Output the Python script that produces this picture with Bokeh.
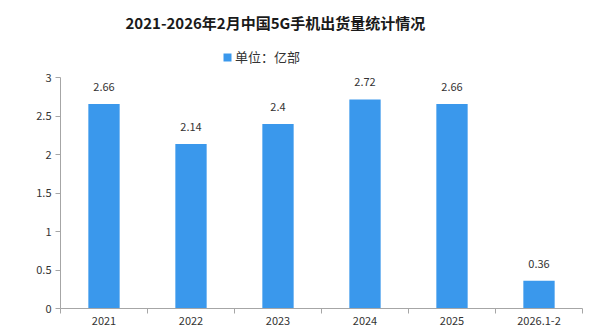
from bokeh.plotting import figure
from bokeh.models import ColumnDataSource, FixedTicker, Legend, LegendItem, Range1d
from bokeh.embed import file_html
from bokeh.resources import INLINE

categories = ["2021", "2022", "2023", "2024", "2025", "2026.1-2"]
values = [2.66, 2.14, 2.4, 2.72, 2.66, 0.36]
y_ticks = [0, 0.5, 1, 1.5, 2, 2.5, 3]
y_tick_labels = ["0", "0.5", "1", "1.5", "2", "2.5", "3"]
title_text = "2021-2026年2月中国5G手机出货量统计情况"
series_name = "单位：亿部"

FONT = "Noto Sans CJK SC"
BAR_COLOR = "#3a98ec"
AXIS_COLOR = "#a6a6a6"
TEXT_COLOR = "#333333"

xpos = [i + 0.5 for i in range(len(categories))]
source = ColumnDataSource(dict(x=xpos, top=values, label=[str(v) for v in values]))

p = figure(width=615, height=335, output_backend="svg", toolbar_location=None,
           x_range=Range1d(0, len(categories)), y_range=Range1d(0, 3.46),
           min_border_left=60, min_border_right=33, min_border_bottom=27,
           min_border_top=40)
p.title.text = title_text
p.title.align = "left"
p.title.offset = 65
p.title.text_font = FONT
p.title.text_font_size = "15px"
p.title.text_font_style = "bold"
p.title.text_color = "#1a1a1a"
p.title.standoff = 19

r = p.vbar(x="x", top="top", width=0.36, source=source, color=BAR_COLOR, line_color=None)
p.text(x="x", y="top", text="label", source=source, text_align="center",
       text_baseline="middle", y_offset=-17, text_font_size="11px",
       text_color=TEXT_COLOR, text_font={"value": FONT})

legend = Legend(items=[LegendItem(label=series_name, renderers=[r])],
                orientation="horizontal", location=(162, 242),
                label_text_font=FONT, label_text_font_size="13px",
                label_text_color=TEXT_COLOR, glyph_width=10, glyph_height=10,
                border_line_color=None, background_fill_alpha=0,
                padding=2, margin=0, label_standoff=3, label_height=14)
p.add_layout(legend)

p.xgrid.visible = False
p.ygrid.visible = False
p.outline_line_color = None

xa = p.xaxis[0]
xa.ticker = FixedTicker(ticks=xpos, minor_ticks=list(range(len(categories) + 1)))
xa.major_label_overrides = {x: c for x, c in zip(xpos, categories)}
xa.major_tick_line_color = None
xa.major_tick_out = 5
xa.minor_tick_in = 0
xa.minor_tick_out = 5
xa.minor_tick_line_color = AXIS_COLOR
xa.axis_line_color = AXIS_COLOR
xa.major_label_text_font = FONT
xa.major_label_text_font_size = "11px"
xa.major_label_text_color = TEXT_COLOR
xa.major_label_standoff = 3

ya = p.yaxis[0]
ya.ticker = FixedTicker(ticks=y_ticks, minor_ticks=[])
ya.bounds = (y_ticks[0], y_ticks[-1])
ya.major_label_overrides = {t: l for t, l in zip(y_ticks, y_tick_labels)}
ya.axis_line_color = AXIS_COLOR
ya.major_tick_line_color = AXIS_COLOR
ya.major_tick_in = 0
ya.major_tick_out = 5
ya.minor_tick_line_color = None
ya.major_label_text_font = FONT
ya.major_label_text_font_size = "11px"
ya.major_label_text_color = TEXT_COLOR
ya.major_label_standoff = 4

open("out.html", "w").write(file_html(p, INLINE))
